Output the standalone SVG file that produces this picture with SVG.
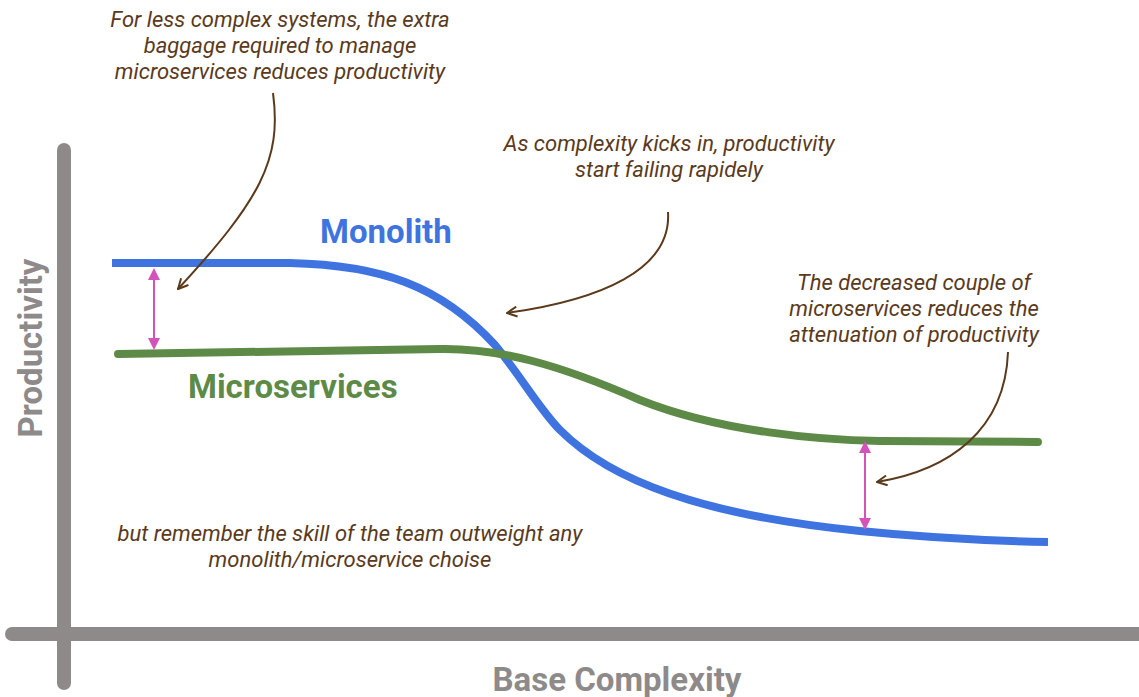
<svg xmlns="http://www.w3.org/2000/svg" width="1139" height="697" viewBox="0 0 1139 697">
<style>
.note{font-family:Roboto,"Liberation Sans",sans-serif;font-style:italic;font-size:22px;fill:#5b3a1c;text-anchor:middle}
.axis{stroke:#8f8a8a;stroke-width:14;stroke-linecap:round;fill:none}
.axlbl{font-family:Roboto,"Liberation Sans",sans-serif;font-weight:bold;font-size:33px;fill:#8f8a8a;text-anchor:middle}
.lead{stroke:#5b3a1c;stroke-width:2;fill:none}
.gap{stroke:#d353bb;stroke-width:2;fill:none}
</style>
<defs>
<marker id="ah" viewBox="0 0 12 12" refX="11" refY="6" markerWidth="12" markerHeight="12" markerUnits="userSpaceOnUse" orient="auto">
<path d="M1,1 L11,6 L1,11" fill="none" stroke="#5b3a1c" stroke-width="2"/>
</marker>
<marker id="pa" viewBox="0 0 12 12" refX="0" refY="6" markerWidth="12" markerHeight="12" markerUnits="userSpaceOnUse" orient="auto-start-reverse">
<path d="M0,0 L12,6 L0,12 Z" fill="#d353bb"/>
</marker>
</defs>
<rect width="1139" height="697" fill="#ffffff"/>
<g id="axes">
<line class="axis" x1="64" y1="150" x2="64" y2="683"/>
<line class="axis" x1="12" y1="634" x2="1139" y2="634"/>
<text class="axlbl" transform="translate(42,348) rotate(-90)">Productivity</text>
<text class="axlbl" x="617" y="691">Base Complexity</text>
</g>
<g id="monolith">
<path d="M112,263 L290,263 C380,265 440,285 495,345 C520,375 540,410 560,430 C610,480 700,515 860,531 C940,539 1000,541 1048,542" fill="none" stroke="#3f74e0" stroke-width="8"/>
<text x="320" y="243" font-family="Roboto,'Liberation Sans',sans-serif" font-weight="bold" font-size="33" fill="#3f74e0">Monolith</text>
</g>
<g id="microservices">
<path d="M118,354 L440,349 C500,348 560,365 640,400 C720,432 820,440 880,441 L1038,442" fill="none" stroke="#5e8a47" stroke-width="8" stroke-linecap="round"/>
<text x="188" y="398" font-family="Roboto,'Liberation Sans',sans-serif" font-weight="bold" font-size="33" fill="#5e8a47">Microservices</text>
</g>
<g id="notes">
<text class="note" x="280" y="27">For less complex systems, the extra</text>
<text class="note" x="280" y="53">baggage required to manage</text>
<text class="note" x="280" y="79">microservices reduces productivity</text>
<text class="note" x="669" y="151">As complexity kicks in, productivity</text>
<text class="note" x="669" y="177">start failing rapidely</text>
<text class="note" x="914" y="290">The decreased couple of</text>
<text class="note" x="914" y="316">microservices reduces the</text>
<text class="note" x="914" y="342">attenuation of productivity</text>
<text class="note" x="350" y="541">but remember the skill of the team outweight any</text>
<text class="note" x="350" y="567">monolith/microservice choise</text>
</g>
<g id="connectors">
<path class="lead" d="M273,93 C282,160 260,200 178,289" marker-end="url(#ah)"/>
<path class="lead" d="M668,212 C672,270 600,300 507,313" marker-end="url(#ah)"/>
<path class="lead" d="M1008,352 C1005,430 950,470 877,482" marker-end="url(#ah)"/>
<line class="gap" x1="154" y1="280" x2="154" y2="338" marker-start="url(#pa)" marker-end="url(#pa)"/>
<line class="gap" x1="865" y1="453" x2="865" y2="518" marker-start="url(#pa)" marker-end="url(#pa)"/>
</g>
</svg>
